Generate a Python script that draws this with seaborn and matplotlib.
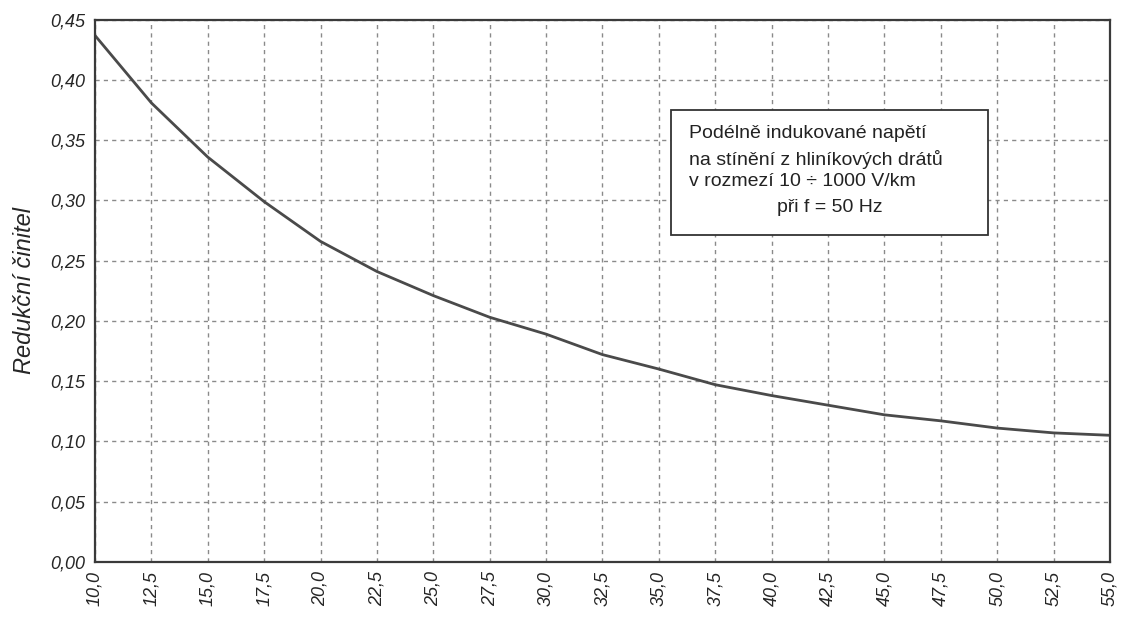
import numpy as np
import pandas as pd
import matplotlib
matplotlib.use("Agg")
import matplotlib.pyplot as plt
from matplotlib.patches import Rectangle
import seaborn as sns

# values
x_vals = [10.0, 12.5, 15.0, 17.5, 20.0, 22.5, 25.0, 27.5, 30.0, 32.5,
          35.0, 37.5, 40.0, 42.5, 45.0, 47.5, 50.0, 52.5, 55.0]
factor = [0.437, 0.381, 0.336, 0.299, 0.266, 0.241, 0.221, 0.203, 0.189, 0.172,
          0.160, 0.147, 0.138, 0.130, 0.122, 0.117, 0.111, 0.107, 0.105]
y_ticks = [0.00, 0.05, 0.10, 0.15, 0.20, 0.25, 0.30, 0.35, 0.40, 0.45]

box_lines = ["Podélně indukované napětí",
             "na stínění z hliníkových drátů",
             "v rozmezí 10 ÷ 1000 V/km"]
box_last = "při f = 50 Hz"

df = pd.DataFrame({"x": x_vals, "y": factor})

sns.set_theme(style="white")
plt.rcParams['font.family'] = ['Liberation Sans', 'DejaVu Sans']

fig = plt.figure(figsize=(11.24, 6.18), dpi=100)
ax = fig.add_axes([0.0845, 0.091, 0.903, 0.877])

sns.lineplot(data=df, x="x", y="y", ax=ax, color="#4a4a4a", linewidth=2.0)

ax.set_xlim(10, 55)
ax.set_ylim(0, 0.45)
ax.set_xticks(x_vals)
ax.set_xticklabels([f"{v:.1f}".replace(".", ",") for v in x_vals],
                   rotation=90, fontsize=13, style="italic")
ax.set_yticks(y_ticks)
ax.set_yticklabels([f"{v:.2f}".replace(".", ",") for v in y_ticks],
                   fontsize=13, style="italic")
ax.set_xlabel("")
ax.set_ylabel("Redukční činitel", fontsize=17, style="italic", labelpad=10)

ax.grid(True, linestyle=(0, (3, 3)), color="#8a8a8a", linewidth=1.0)
ax.tick_params(axis="both", length=4, color="#444444", direction="out", pad=3)
for s in ax.spines.values():
    s.set_color("#3a3a3a")
    s.set_linewidth(1.6)

# annotation box
ax.add_patch(Rectangle((0.568, 0.603), 0.312, 0.231, transform=ax.transAxes,
                       facecolor="white", edgecolor="#333333", linewidth=1.3, zorder=5))
for i, line in enumerate(box_lines):
    ax.text(0.585, [0.790, 0.742, 0.701][i], line, transform=ax.transAxes,
            ha="left", va="center", fontsize=14, color="#222222", zorder=6)
ax.text(0.724, 0.653, box_last, transform=ax.transAxes,
        ha="center", va="center", fontsize=14, color="#222222", zorder=6)

fig.savefig("out.png", dpi=100)
